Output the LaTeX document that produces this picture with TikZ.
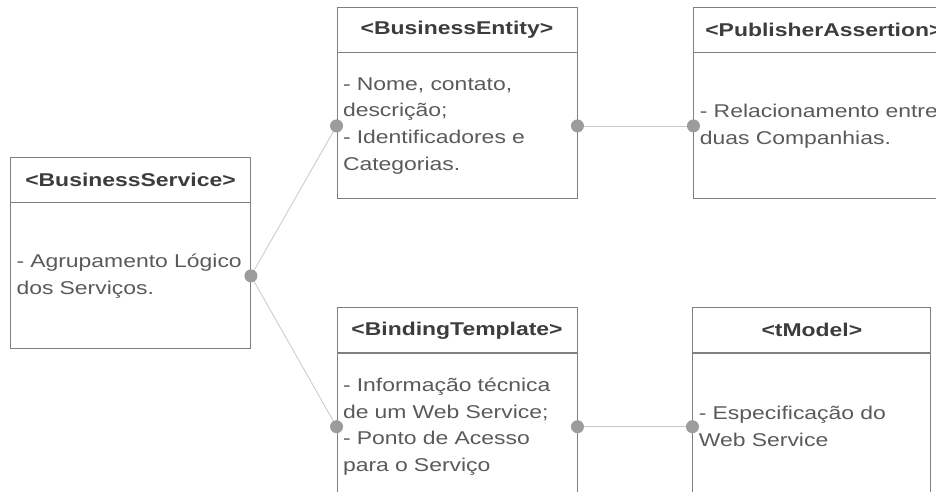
\documentclass[tikz,border=0pt]{standalone}
\usepackage{fontspec}
\setmainfont[FakeStretch=1.24]{Liberation Sans}
\usetikzlibrary{positioning}
\definecolor{boxgray}{HTML}{808080}
\definecolor{headgray}{HTML}{3C3C3C}
\definecolor{txtgray}{HTML}{5A5A5A}
\definecolor{linkgray}{HTML}{C8C8C8}
\definecolor{dotgray}{HTML}{9C9C9C}

\begin{document}
\begin{tikzpicture}[x=1pt, y=-1pt, font=\fontsize{18.5}{26.7}\selectfont,
                    head/.style={draw=boxgray, line width=0.9pt, minimum width=240pt, minimum height=45pt, inner sep=0pt,
                                 text=headgray, font=\fontsize{18.5}{26.7}\selectfont\bfseries},
                    body/.style={draw=boxgray, line width=0.9pt, text width=228pt, inner xsep=6pt, inner ysep=0pt,
                                 minimum height=146pt, align=left, text=txtgray},
                    link/.style={draw=linkgray, line width=0.8pt},
                    dot/.style={circle, fill=dotgray, inner sep=0pt, minimum size=13pt}]
    \useasboundingbox (0,0) rectangle (936,492);
    \clip (0,0) rectangle (936,492);

    % classes
    \node[head] (bs) at (130.5,179.5) {<BusinessService>};
    \node[body, below=0pt of bs] (bsb) {- Agrupamento Lógico\\dos Serviços.};

    \node[head] (be) at (457,29.5) {<BusinessEntity>};
    \node[body, below=0pt of be] (beb) {- Nome, contato,\\descrição;\\- Identificadores e\\Categorias.};

    \node[head, minimum width=260pt, right=116pt of be] (pa) {<PublisherAssertion>};
    \node[body, text width=248pt, below=0pt of pa] (pab) {- Relacionamento entre\\duas Companhias.};

    \node[head, below=108pt of beb] (bt) {<BindingTemplate>};
    \node[body, below=0pt of bt] (btb) {- Informação técnica\\de um Web Service;\\- Ponto de Acesso\\para o Serviço};

    \node[head, minimum width=238pt, right=115pt of bt] (tm) {<tModel>};
    \node[body, text width=226pt, below=0pt of tm] (tmb) {- Especificação do\\Web Service};

    % links
    \draw[link] (bsb.east) -- (beb.west);
    \draw[link] (bsb.east) -- (btb.west);
    \draw[link] (beb.east) -- (pab.west);
    \draw[link] (btb.east) -- (tmb.west);

    \node[dot] (d1) at (bsb.east) {};
    \node[dot] (d2) at (beb.west) {};
    \node[dot] (d3) at (beb.east) {};
    \node[dot] (d4) at (pab.west) {};
    \node[dot] (d5) at (btb.west) {};
    \node[dot] (d6) at (btb.east) {};
    \node[dot] (d7) at (tmb.west) {};
\end{tikzpicture}
\end{document}
